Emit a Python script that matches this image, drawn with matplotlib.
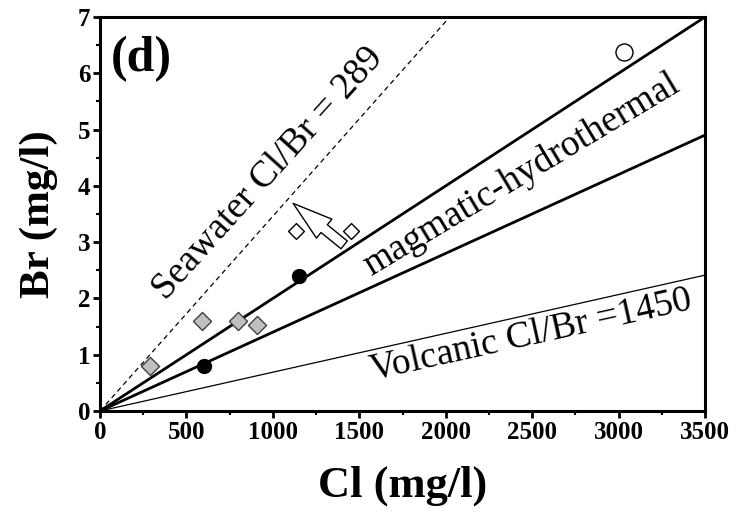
import numpy as np
import matplotlib.pyplot as plt
from matplotlib.patches import FancyArrowPatch
from matplotlib.ticker import MultipleLocator

plt.rcParams['font.family'] = ['Liberation Serif', 'DejaVu Serif']
plt.rcParams['font.weight'] = 'bold'

# Reference Cl/Br ratio lines
seawater_ratio = 289
upper_ratio = 500
lower_ratio = 714
volcanic_ratio = 1450

# Samples (Cl, Br in mg/l)
gray_cl = [290, 590, 800, 910]
gray_br = [0.8, 1.6, 1.6, 1.52]
black_cl = [600, 1150]
black_br = [0.8, 2.4]
open_dia_cl = [1135, 1450]
open_dia_br = [3.2, 3.2]
circle_cl = [3030]
circle_br = [6.38]

fig = plt.figure(figsize=(7.38, 5.2), dpi=100)
ax = fig.add_axes([0.1355, 0.2096, 0.8198, 0.7577])

cl = np.array([0, 3500])
ax.plot(cl, cl / seawater_ratio, color='black', lw=0.9, ls=(0, (4, 3)))
ax.plot(cl, cl / upper_ratio, color='black', lw=2.0)
ax.plot(cl, cl / lower_ratio, color='black', lw=2.0)
ax.plot(cl, cl / volcanic_ratio, color='black', lw=0.9)

ax.scatter(gray_cl, gray_br, marker='D', s=85, facecolor='#c0c0c0',
           edgecolor='#404040', lw=1.0, zorder=3)
ax.scatter(black_cl, black_br, marker='o', s=100, color='black', zorder=3)
ax.scatter(open_dia_cl, open_dia_br, marker='D', s=65, facecolor='white',
           edgecolor='black', lw=1.0, zorder=3)
ax.scatter(circle_cl, circle_br, marker='o', s=150, facecolor='white',
           edgecolor='black', lw=1.0, zorder=3)

# hollow arrow pointing from the shifted sample toward the seawater line
arrow = FancyArrowPatch((1425, 2.92), (1105, 3.72),
                        arrowstyle='simple,head_length=1.8,head_width=1.1,tail_width=0.45',
                        mutation_scale=16, facecolor='white', edgecolor='black',
                        lw=1.0, zorder=4)
ax.add_patch(arrow)

ax.text(240, 6.26, '(d)', fontsize=36, fontweight='bold', ha='center', va='center')
ax.text(975, 4.22, 'Seawater Cl/Br = 289', fontsize=27, fontweight='normal',
        rotation=48, ha='center', va='center', rotation_mode='anchor')
ax.text(2441, 4.19, 'magmatic-hydrothermal', fontsize=27, fontweight='normal',
        rotation=31, ha='center', va='center', rotation_mode='anchor')
ax.text(2492, 1.33, 'Volcanic Cl/Br =1450', fontsize=27, fontweight='normal',
        rotation=12.5, ha='center', va='center', rotation_mode='anchor')

ax.set_xlim(0, 3500)
ax.set_ylim(0, 7)
ax.xaxis.set_major_locator(MultipleLocator(500))
ax.xaxis.set_minor_locator(MultipleLocator(250))
ax.yaxis.set_major_locator(MultipleLocator(1))
ax.yaxis.set_minor_locator(MultipleLocator(0.5))
ax.tick_params(which='major', direction='out', length=5, width=2, labelsize=18, pad=2)
ax.tick_params(which='minor', direction='out', length=3, width=1.5)
for lab in ax.get_xticklabels() + ax.get_yticklabels():
    lab.set_fontweight('bold')
for sp in ax.spines.values():
    sp.set_linewidth(2.2)

ax.set_xlabel('Cl (mg/l)', fontsize=32, fontweight='bold', labelpad=16)
ax.set_ylabel('Br (mg/l)', fontsize=31, fontweight='bold', labelpad=14)

fig.savefig('out.png', dpi=100)
